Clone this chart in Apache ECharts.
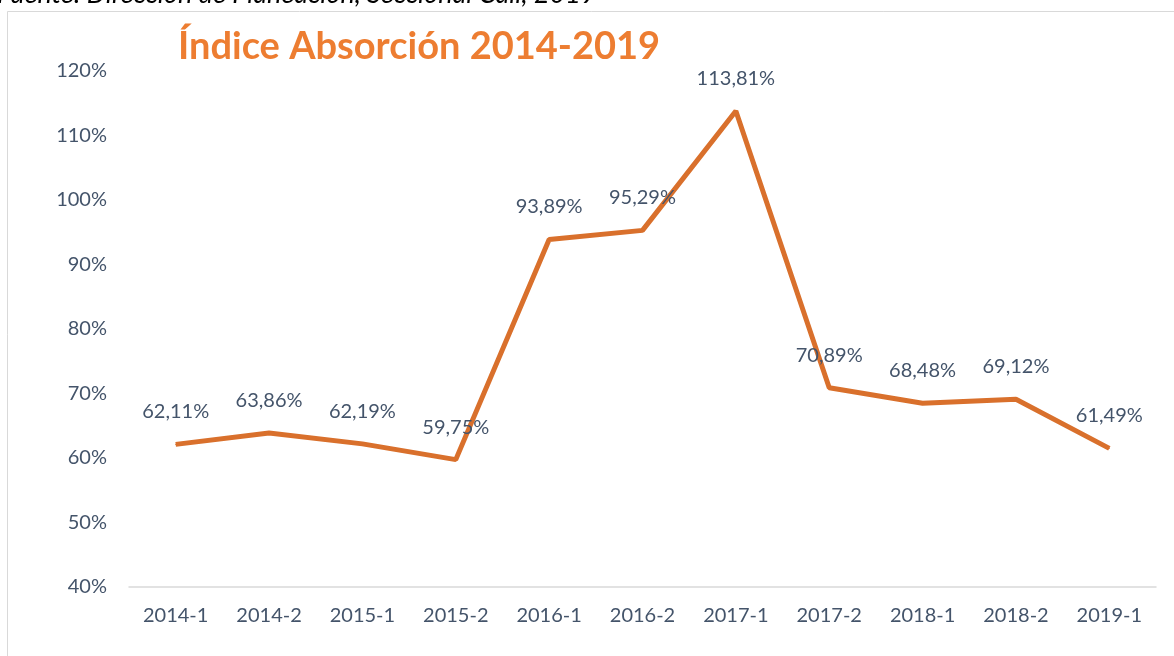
<!DOCTYPE html>
<html>
<head>
<meta charset="utf-8">
<script src="https://cdn.jsdelivr.net/npm/echarts@6/dist/echarts.min.js"></script>
<style>
html,body{margin:0;padding:0;background:#fff;}
#main{width:1174px;height:656px;}
</style>
</head>
<body>
<div id="main"></div>
<script>
// datos del indice de absorcion
var periodos = ['2014-1','2014-2','2015-1','2015-2','2016-1','2016-2','2017-1','2017-2','2018-1','2018-2','2019-1'];
var indice = [62.11, 63.86, 62.19, 59.75, 93.89, 95.29, 113.81, 70.89, 68.48, 69.12, 61.49];

var myChart = echarts.init(document.getElementById('main'));
var option = {
    backgroundColor: '#fff',
    textStyle: {fontFamily: 'Lato'},
    graphic: [
        {type: 'rect', shape: {x: 7.5, y: 11.5, width: 1180, height: 660}, style: {fill: 'none', stroke: '#D9D9D9', lineWidth: 1}},
        {type: 'text', left: -3, top: -19, style: {text: 'Fuente: Dirección de Planeación, Seccional Cali, 2019', font: 'italic 27px Lato', fill: '#000'}},
        {type: 'text', left: 178, top: 28, style: {text: 'Índice Absorción 2014-2019', font: 'bold 38px Lato', fill: '#ED7D31'}}
    ],
    grid: {left: 129, right: 18, top: 71, bottom: 69},
    xAxis: {
        type: 'category',
        data: periodos,
        axisLine: {lineStyle: {color: '#D9D9D9', width: 1.5}},
        axisTick: {length: 8, lineStyle: {color: '#D9D9D9'}},
        axisLabel: {color: '#44546A', fontSize: 20, margin: 19}
    },
    yAxis: {
        type: 'value',
        min: 40, max: 120, interval: 10,
        splitLine: {show: false},
        axisLabel: {color: '#44546A', fontSize: 20, margin: 22, formatter: '{value}%'}
    },
    series: [{
        type: 'line',
        data: indice,
        symbol: 'circle',
        symbolSize: 1,
        itemStyle: {color: '#D9702C'},
        lineStyle: {color: '#D9702C', width: 5},
        label: {
            show: true, position: 'top', distance: 22,
            color: '#44546A', fontSize: 20,
            formatter: function (p) { return p.value.toFixed(2).replace('.', ',') + '%'; }
        }
    }]
};
myChart.setOption(option);
</script>
</body>
</html>
